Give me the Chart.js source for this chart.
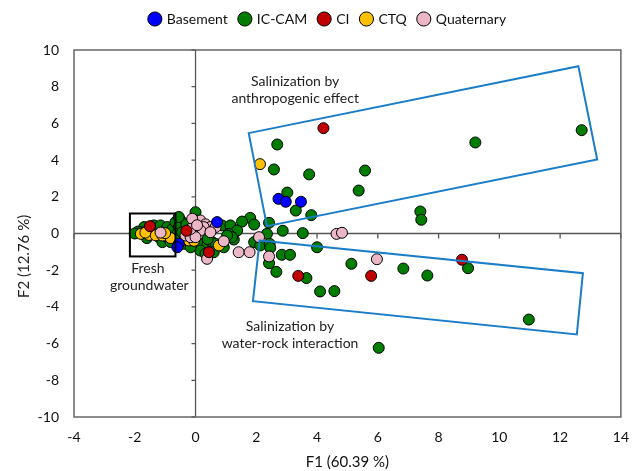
<!DOCTYPE html>
<html>
<head>
<meta charset="utf-8">
<script src="https://cdn.jsdelivr.net/npm/chart.js@4.4.1/dist/chart.umd.min.js"></script>
<style>
  html, body { margin: 0; padding: 0; background: #fff; }
  #wrap { width: 641px; height: 471px; }
</style>
</head>
<body>
<div id="wrap"><canvas id="pcaChart" width="641" height="471"></canvas></div>
<script>
// PCA scores, [F1, F2]
const basement = [[2.73, 1.89], [2.97, 1.73], [3.47, 1.73], [0.71, 0.62], [-0.55, -0.56], [-0.6, -0.75]];
const icCam = [
    [12.71, 5.63], [9.21, 4.96], [2.69, 4.85], [2.58, 3.49], [3.74, 3.22], [5.58, 3.43], [5.37, 2.34],
    [3.02, 2.23], [3.30, 1.25], [3.81, 1.0], [7.40, 1.2], [7.43, 0.75], [2.42, 0.58], [2.87, 0.15],
    [3.53, 0.02], [1.80, 0.85], [1.53, 0.65], [1.93, 0.49], [1.34, 0.16], [1.15, 0.4], [2.35, -0.02],
    [1.26, -0.33], [1.93, -0.47], [2.13, -0.65], [2.44, -0.56], [2.46, -0.78], [2.42, -1.62], [2.84, -1.16],
    [3.11, -1.16], [4.0, -0.75], [2.66, -2.09], [3.65, -2.43], [5.13, -1.65], [6.84, -1.91], [7.63, -2.29],
    [8.97, -1.89], [4.10, -3.16], [4.57, -3.14], [10.97, -4.69], [6.03, -6.23],
    [0, 1.16], [0.87, 0.44], [1.15, 0.44], [1.37, 0.16], [1.09, -0.02], [1.2, -0.2], [1.04, -0.11],
    [0.27, -0.56], [0.55, -0.47], [0.66, -0.56], [0.05, -0.47], [0.16, -0.93], [0.33, -1.1], [0.6, -1.02],
    [0.93, -0.75], [0.4, -0.3],
    [-1.69, 0.35], [-1.37, 0.44], [-1.15, 0.44], [-0.93, 0.35], [-0.76, 0.25], [-0.66, 0.62], [-0.49, 0.71],
    [-0.55, 0.35], [-0.6, -0.02], [-0.44, 0.07], [-1.2, -0.2], [-1.09, -0.47], [-0.93, -0.2], [-0.82, -0.47],
    [-0.38, -0.56], [-0.22, -0.38], [-0.16, -0.75], [-1.8, 0.07], [-1.53, 0.25], [-0.55, 0.9], [-0.3, 0.5],
    [-1.9, 0.1], [-2.0, 0.0], [-1.6, -0.25]
];
const ci = [[4.21, 5.74], [3.38, -2.31], [5.78, -2.31], [8.77, -1.43], [0.44, -1.02], [-1.5, 0.4], [-0.3, 0.15]];
const ctq = [
    [2.12, 3.78], [-1.8, -0.02], [-1.53, -0.08], [-1.31, -0.1], [-1.09, -0.11], [-0.82, -0.25],
    [-0.22, -0.38], [-0.05, -0.4], [0.77, -0.65], [-1.65, 0.05], [-1.0, 0.02]
];
const quaternary = [
    [4.64, -0.02], [4.82, 0.04], [2.09, -0.2], [1.42, -1.02], [1.78, -1.02], [2.42, -1.25], [5.97, -1.40],
    [0.38, -1.38], [0.93, -0.42], [-1.15, 0.05], [0, 0.71], [0.16, 0.71], [0.33, 0.5], [0.49, 0.35],
    [0.66, 0.35], [0.27, 0.35], [0.16, 0.16], [-0.11, 0.07], [0.49, 0.07], [-0.33, -0.11], [-0.16, -0.2],
    [0, -0.2], [-0.11, 0.8], [-0.16, 0.25], [0.05, 0.45]
];

// annotation shapes and labels (in F1/F2 units)
const anthropogenicZone = [[1.75, 5.47], [12.6, 9.12], [13.22, 4.03], [2.35, 0.40]];
const waterRockZone = [[2.11, -0.38], [12.75, -2.16], [12.55, -5.5], [1.89, -3.69]];
const freshBox = [[-2.16, 1.09], [-0.66, -1.25]];
const notes = [
    { text: 'Salinization by', x: 3.28, y: 8.3 },
    { text: 'anthropogenic effect', x: 3.28, y: 7.34 },
    { text: 'Salinization by', x: 3.11, y: -5.05 },
    { text: 'water-rock interaction', x: 3.11, y: -6.01 },
    { text: 'Fresh', x: -1.57, y: -1.92 },
    { text: 'groundwater', x: -1.52, y: -2.83 }
];

const FONT = 'Lato, "Open Sans", sans-serif';

function toPoints(arr) {
    return arr.map(p => ({ x: p[0], y: p[1] }));
}

function series(label, arr, color, order) {
    return {
        label: label,
        data: toPoints(arr),
        backgroundColor: color,
        borderColor: '#000',
        borderWidth: 1,
        pointRadius: 5.5,
        pointHoverRadius: 5.5,
        order: order
    };
}

const decorations = {
    id: 'decorations',
    beforeInit(chart) {
        const fit = chart.legend.fit;
        chart.legend.fit = function () {
            fit.bind(chart.legend)();
            this.height = 50;
        };
    },
    afterLayout(chart) {
        // legend sits a little right of the canvas centre in the original
        chart.legend.left += 17;
        chart.legend.right += 17;
    },
    beforeDatasetsDraw(chart) {
        const ctx = chart.ctx;
        const xs = chart.scales.x, ys = chart.scales.y;
        const a = chart.chartArea;
        const x0 = xs.getPixelForValue(0), y0 = ys.getPixelForValue(0);
        ctx.save();
        ctx.strokeStyle = '#555';
        ctx.lineWidth = 1.3;
        ctx.beginPath();
        ctx.moveTo(a.left, y0); ctx.lineTo(a.right, y0);
        ctx.moveTo(x0, a.top); ctx.lineTo(x0, a.bottom);
        xs.ticks.forEach(t => {
            const px = xs.getPixelForValue(t.value);
            ctx.moveTo(px, y0); ctx.lineTo(px, y0 + 5);
        });
        ys.ticks.forEach(t => {
            const py = ys.getPixelForValue(t.value);
            ctx.moveTo(x0 - 4, py); ctx.lineTo(x0, py);
        });
        ctx.stroke();
        ctx.restore();
    },
    afterDatasetsDraw(chart) {
        const ctx = chart.ctx;
        const xs = chart.scales.x, ys = chart.scales.y;
        const a = chart.chartArea;
        ctx.save();
        // frame
        ctx.strokeStyle = '#666';
        ctx.lineWidth = 1.5;
        ctx.strokeRect(a.left, a.top, a.right - a.left, a.bottom - a.top);

        // salinization zones
        ctx.strokeStyle = '#1a7dc8';
        ctx.lineWidth = 2;
        [anthropogenicZone, waterRockZone].forEach(poly => {
            ctx.beginPath();
            poly.forEach((p, i) => {
                const px = xs.getPixelForValue(p[0]), py = ys.getPixelForValue(p[1]);
                if (i === 0) ctx.moveTo(px, py); else ctx.lineTo(px, py);
            });
            ctx.closePath();
            ctx.stroke();
        });

        // fresh groundwater box
        const bx1 = xs.getPixelForValue(freshBox[0][0]), by1 = ys.getPixelForValue(freshBox[0][1]);
        const bx2 = xs.getPixelForValue(freshBox[1][0]), by2 = ys.getPixelForValue(freshBox[1][1]);
        ctx.strokeStyle = '#000';
        ctx.lineWidth = 2;
        ctx.strokeRect(bx1, by1, bx2 - bx1, by2 - by1);

        // notes
        ctx.fillStyle = '#222';
        ctx.font = '14px ' + FONT;
        ctx.textAlign = 'center';
        ctx.textBaseline = 'middle';
        notes.forEach(n => {
            ctx.fillText(n.text, xs.getPixelForValue(n.x), ys.getPixelForValue(n.y));
        });

        // y axis title
        ctx.translate(24, ys.getPixelForValue(-1.25));
        ctx.rotate(-Math.PI / 2);
        ctx.font = '15px ' + FONT;
        ctx.fillText('F2 (12.76 %)', 0, 0);
        ctx.restore();
    }
};

const ctxElement = document.getElementById('pcaChart');
const pcaChart = new Chart(ctxElement.getContext('2d'), {
    type: 'scatter',
    data: {
        datasets: [
            series('Basement', basement, '#0000ff', 2),
            series('IC-CAM', icCam, '#007d00', 5),
            series('CI', ci, '#c00000', 1),
            series('CTQ', ctq, '#ffc000', 4),
            series('Quaternary', quaternary, '#ebb6c6', 3)
        ]
    },
    options: {
        responsive: false,
        animation: false,
        layout: { padding: { left: 0, right: 19, top: 0, bottom: 0 } },
        plugins: {
            legend: {
                position: 'top',
                labels: {
                    usePointStyle: true,
                    pointStyle: 'circle',
                    boxWidth: 10,
                    boxHeight: 10,
                    padding: 12,
                    color: '#111',
                    font: { family: FONT, size: 14 },
                    sort: (a, b) => a.datasetIndex - b.datasetIndex
                }
            },
            tooltip: { enabled: false }
        },
        scales: {
            x: {
                type: 'linear',
                min: -4,
                max: 14,
                grid: { display: false, drawTicks: false },
                border: { display: false },
                ticks: { stepSize: 2, padding: 12, color: '#111', font: { family: FONT, size: 14 } },
                title: {
                    display: true,
                    text: 'F1 (60.39 %)',
                    color: '#111',
                    font: { family: FONT, size: 15 },
                    padding: { top: 6, bottom: 0 }
                },
                afterFit: s => { s.height = 54; }
            },
            y: {
                type: 'linear',
                min: -10,
                max: 10,
                grid: { display: false, drawTicks: false },
                border: { display: false },
                ticks: { stepSize: 2, padding: 15, color: '#111', font: { family: FONT, size: 14 } },
                afterFit: s => { s.width = 74; }
            }
        }
    },
    plugins: [decorations]
});
</script>
</body>
</html>
